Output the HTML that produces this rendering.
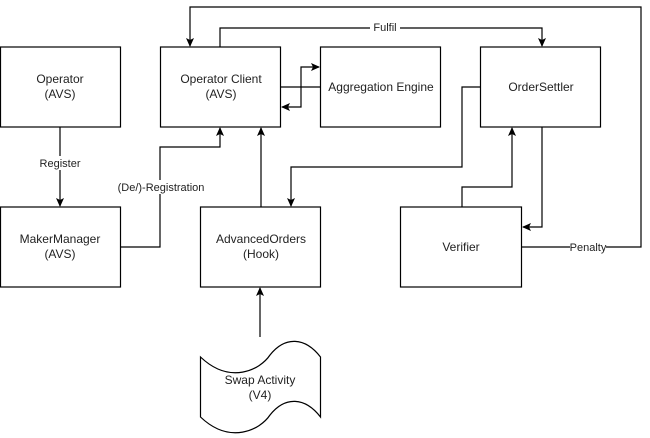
<!DOCTYPE html>
<html><head><style>
body{margin:0;background:#fff;}
svg{display:block;font-family:"Liberation Sans",Helvetica,Arial,sans-serif;}
</style></head><body>
<svg width="650" height="438" viewBox="0 0 650 438" xmlns="http://www.w3.org/2000/svg">
<defs>
<marker id="a" markerWidth="10" markerHeight="10" refX="8" refY="5" orient="auto" markerUnits="userSpaceOnUse">
<path d="M0,1 L9,5 L0,9 L2,5 Z" fill="#000"/>
</marker>
</defs>
<g fill="#fff" stroke="#000" stroke-width="1.2">
<rect x="0.5" y="47" width="120" height="80"/>
<rect x="160.5" y="47" width="120" height="80"/>
<rect x="320.5" y="47" width="120" height="80"/>
<rect x="480.5" y="47" width="120" height="80"/>
<rect x="0.5" y="207" width="120" height="80"/>
<rect x="200.5" y="207" width="120" height="80"/>
<rect x="400.5" y="207" width="121" height="80"/>
<path d="M200.5,357 C230,385 260,370 270,355 C285,336 305,337 320.5,357 L320.5,417 C305,397 285,396 270,415 C260,430 230,445 200.5,417 Z"/>
</g>
<g fill="none" stroke="#000" stroke-width="1.2">
<path d="M521,247 L641,247 L641,7 L190,7 L190,46" marker-end="url(#a)"/>
<path d="M220,47 L220,28 L542,28 L542,46" marker-end="url(#a)"/>
<path d="M281,87 L301,87 L301,67 L319,67" marker-end="url(#a)"/>
<path d="M320,87 L301,87 L301,107 L282,107" marker-end="url(#a)"/>
<path d="M480,87 L462,87 L462,167 L291,167 L291,206" marker-end="url(#a)"/>
<path d="M462,207 L462,187 L512,187 L512,128" marker-end="url(#a)"/>
<path d="M542,127 L542,227 L523,227" marker-end="url(#a)"/>
<path d="M60,127 L60,206" marker-end="url(#a)"/>
<path d="M121,247 L160,247 L160,147 L220,147 L220,128" marker-end="url(#a)"/>
<path d="M261,207 L261,128" marker-end="url(#a)"/>
<path d="M260,337 L260,288" marker-end="url(#a)"/>
</g>
<g fill="#fff">
<rect x="370" y="20" width="30" height="14"/>
<rect x="38" y="156" width="44" height="14"/>
<rect x="114" y="180" width="94" height="14"/>
<rect x="570" y="240" width="36" height="14"/>
</g>
<g font-size="12" fill="#222" text-anchor="middle">
<text x="60" y="83">Operator</text><text x="60" y="98">(AVS)</text>
<text x="221" y="83">Operator Client</text><text x="221" y="98">(AVS)</text>
<text x="381" y="91">Aggregation Engine</text>
<text x="541" y="91">OrderSettler</text>
<text x="60" y="243">MakerManager</text><text x="60" y="258">(AVS)</text>
<text x="261" y="243">AdvancedOrders</text><text x="261" y="258">(Hook)</text>
<text x="461" y="251">Verifier</text>
<text x="260" y="384">Swap Activity</text><text x="260" y="399">(V4)</text>
</g>
<g font-size="11" fill="#222" text-anchor="middle">
<text x="385" y="31">Fulfil</text>
<text x="60" y="167">Register</text>
<text x="161" y="191">(De/)-Registration</text>
<text x="588" y="251">Penalty</text>
</g>
</svg>
</body></html>
